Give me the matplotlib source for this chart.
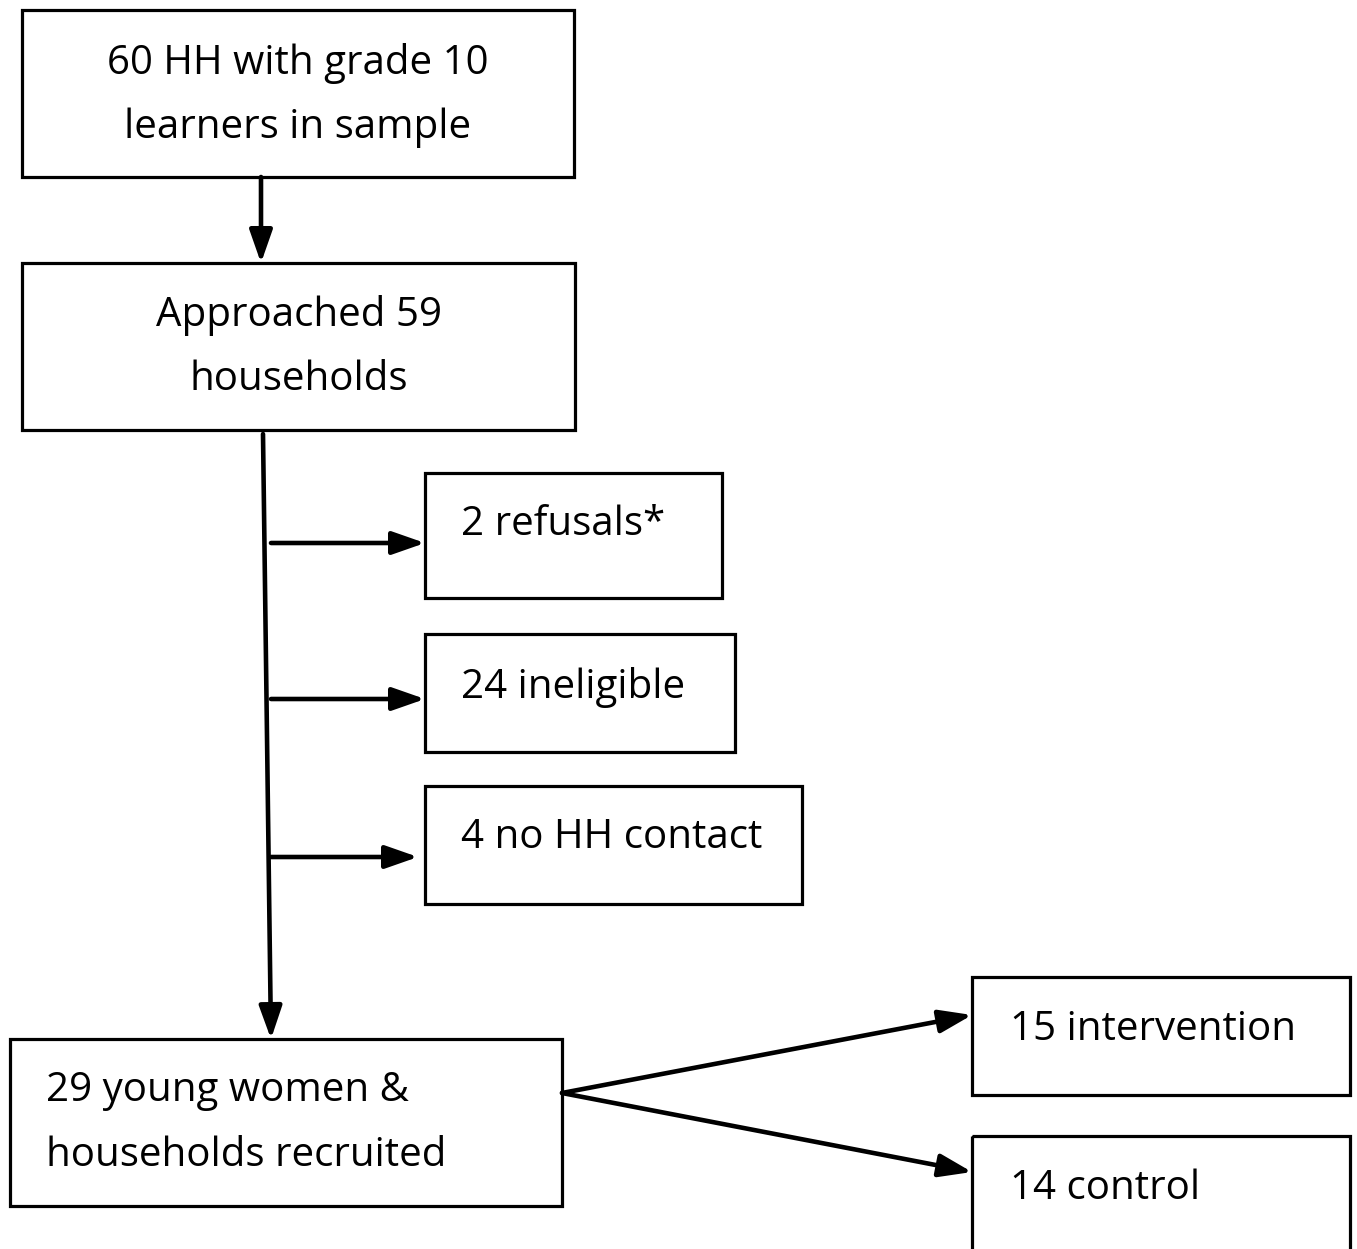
import matplotlib.pyplot as plt
from matplotlib.patches import Rectangle

# box geometry in image pixels: (left, top, right, bottom)
BOXES = [
    (22, 10, 574, 177),
    (22, 263, 575, 430),
    (425, 473, 722, 598),
    (425, 634, 735, 752),
    (425, 786, 802, 904),
    (10, 1039, 562, 1206),
    (972, 977, 1350, 1095),
    (972, 1136, 1350, 1262),
]

LABELS = [
    "60 HH with grade 10\nlearners in sample",
    "Approached 59\nhouseholds",
    "2 refusals*",
    "24 ineligible",
    "4 no HH contact",
    "29 young women &\nhouseholds recruited",
    "15 intervention",
    "14 control",
]

# text anchor (x, y of first line centre), alignment
TEXT_POS = [
    (298, 63, "center"),
    (299, 315, "center"),
    (461, 525, "left"),
    (461, 687, "left"),
    (461, 838, "left"),
    (46, 1091, "left"),
    (1010, 1030, "left"),
    (1010, 1189, "left"),
]

# arrows: (x0, y0, x1, y1)
ARROWS = [
    (261, 177, 261, 263),
    (263, 434, 271, 1039),
    (271, 543, 425, 543),
    (271, 699, 425, 699),
    (271, 857, 418, 857),
    (562, 1093, 972, 1015),
    (562, 1093, 972, 1172),
]

W, H = 1357, 1249
fig = plt.figure(figsize=(W / 100, H / 100), dpi=100)
ax = fig.add_axes([0, 0, 1, 1])
ax.set_xlim(0, W)
ax.set_ylim(H, 0)
ax.axis("off")

for (l, t, r, b) in BOXES:
    ax.add_patch(Rectangle((l, t), r - l, b - t, fill=False,
                           edgecolor="black", linewidth=2.3))

for label, (x, y, ha) in zip(LABELS, TEXT_POS):
    for i, line in enumerate(label.split("\n")):
        ax.text(x, y + i * 65, line, ha=ha, va="center",
                fontsize=29, family="Open Sans", color="black")

for (x0, y0, x1, y1) in ARROWS:
    ax.annotate("", xy=(x1, y1), xytext=(x0, y0),
                arrowprops=dict(arrowstyle="-|>,head_length=2.0,head_width=0.7",
                                color="black", lw=3.3, shrinkA=0, shrinkB=0))

fig.savefig("out.png", dpi=100)
